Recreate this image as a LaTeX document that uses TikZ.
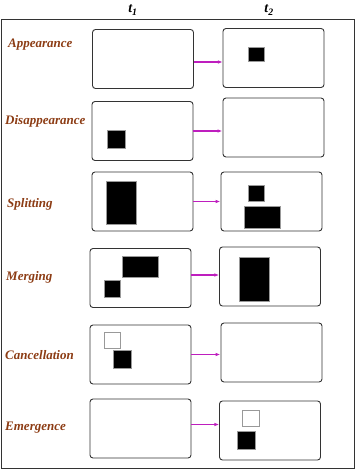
\documentclass[tikz,border=0pt]{standalone}
\usepackage{fontspec}
\setmainfont{Liberation Serif}
\usetikzlibrary{arrows.meta}
\definecolor{evbrown}{RGB}{140,60,20}
\definecolor{evarrow}{RGB}{190,30,190}
\tikzset{
  frame/.style={draw=black!80, line width=0.9pt, rounded corners=3pt, minimum width=101pt, minimum height=59pt, inner sep=0pt},
  event/.style={anchor=west, inner sep=0pt, text=evbrown, font=\fontsize{13}{15}\selectfont\bfseries\itshape},
  blob/.style={fill=black, draw=black!40, line width=0.6pt},
  ghost/.style={fill=white, draw=black!40, line width=0.8pt},
  trans/.style={-{Latex[length=5pt,width=3.5pt]}, evarrow, line width=1.1pt}
}
\begin{document}
\begin{tikzpicture}[x=1pt,y=-1pt]
  \useasboundingbox (0,0) rectangle (356,470);
  \draw[black!80, line width=1pt] (1,20) rectangle (354,468);
  \node[font=\fontsize{14}{16}\selectfont\bfseries\itshape] (ta) at (133,10) {t\textsubscript{1}};
  \node[font=\fontsize{14}{16}\selectfont\bfseries\itshape] (tb) at (269,10) {t\textsubscript{2}};

  % appearance
  \node[event] (e1) at (8,45) {Appearance};
  \node[frame] (l1) at (143,59) {};
  \node[frame] (r1) at (273.5,58) {};
  \draw[blob] (248,47) rectangle (264,61);
  \draw[trans] (l1.east) ++(0,3) -- ++(29,0);

  % disappearance
  \node[event] (e2) at (5,121) {Disappearance};
  \node[frame] (l2) at (142.5,131) {};
  \node[frame] (r2) at (273.5,127.5) {};
  \draw[blob] (107,130) rectangle (125,148);
  \draw[trans] (l2.east) -- (l2.east -| r2.west);

  % splitting
  \node[event] (e3) at (7,204) {Splitting};
  \node[frame] (l3) at (142.5,201.5) {};
  \node[frame] (r3) at (271.5,201.5) {};
  \draw[blob] (106,181) rectangle (136,224);
  \draw[blob] (248,185) rectangle (264,201);
  \draw[blob] (244,206) rectangle (280,228);
  \draw[trans] (l3.east) -- (l3.east -| r3.west);

  % merging
  \node[event] (e4) at (6,277) {Merging};
  \node[frame] (l4) at (140.5,278) {};
  \node[frame] (r4) at (270,276.5) {};
  \draw[blob] (122,256) rectangle (158,277);
  \draw[blob] (104,280) rectangle (120,297);
  \draw[blob] (239,257) rectangle (269,301);
  \draw[trans] (l4.east) ++(0,-3) -- ++(28,0);

  % cancellation
  \node[event] (e5) at (5,355) {Cancellation};
  \node[frame] (l5) at (140.5,354.5) {};
  \node[frame] (r5) at (271.5,352.5) {};
  \draw[ghost] (104,332) rectangle (120,348);
  \draw[blob] (113,350) rectangle (131,368);
  \draw[trans] (l5.east) -- (l5.east -| r5.west);

  % emergence
  \node[event] (e6) at (5,428) {Emergence};
  \node[frame] (l6) at (140.5,428.5) {};
  \node[frame] (r6) at (270,430.5) {};
  \draw[ghost] (242,410) rectangle (259,426);
  \draw[blob] (237,431) rectangle (255,449);
  \draw[trans] (l6.east) ++(0,-4) -- ++(28,0);
\end{tikzpicture}
\end{document}
